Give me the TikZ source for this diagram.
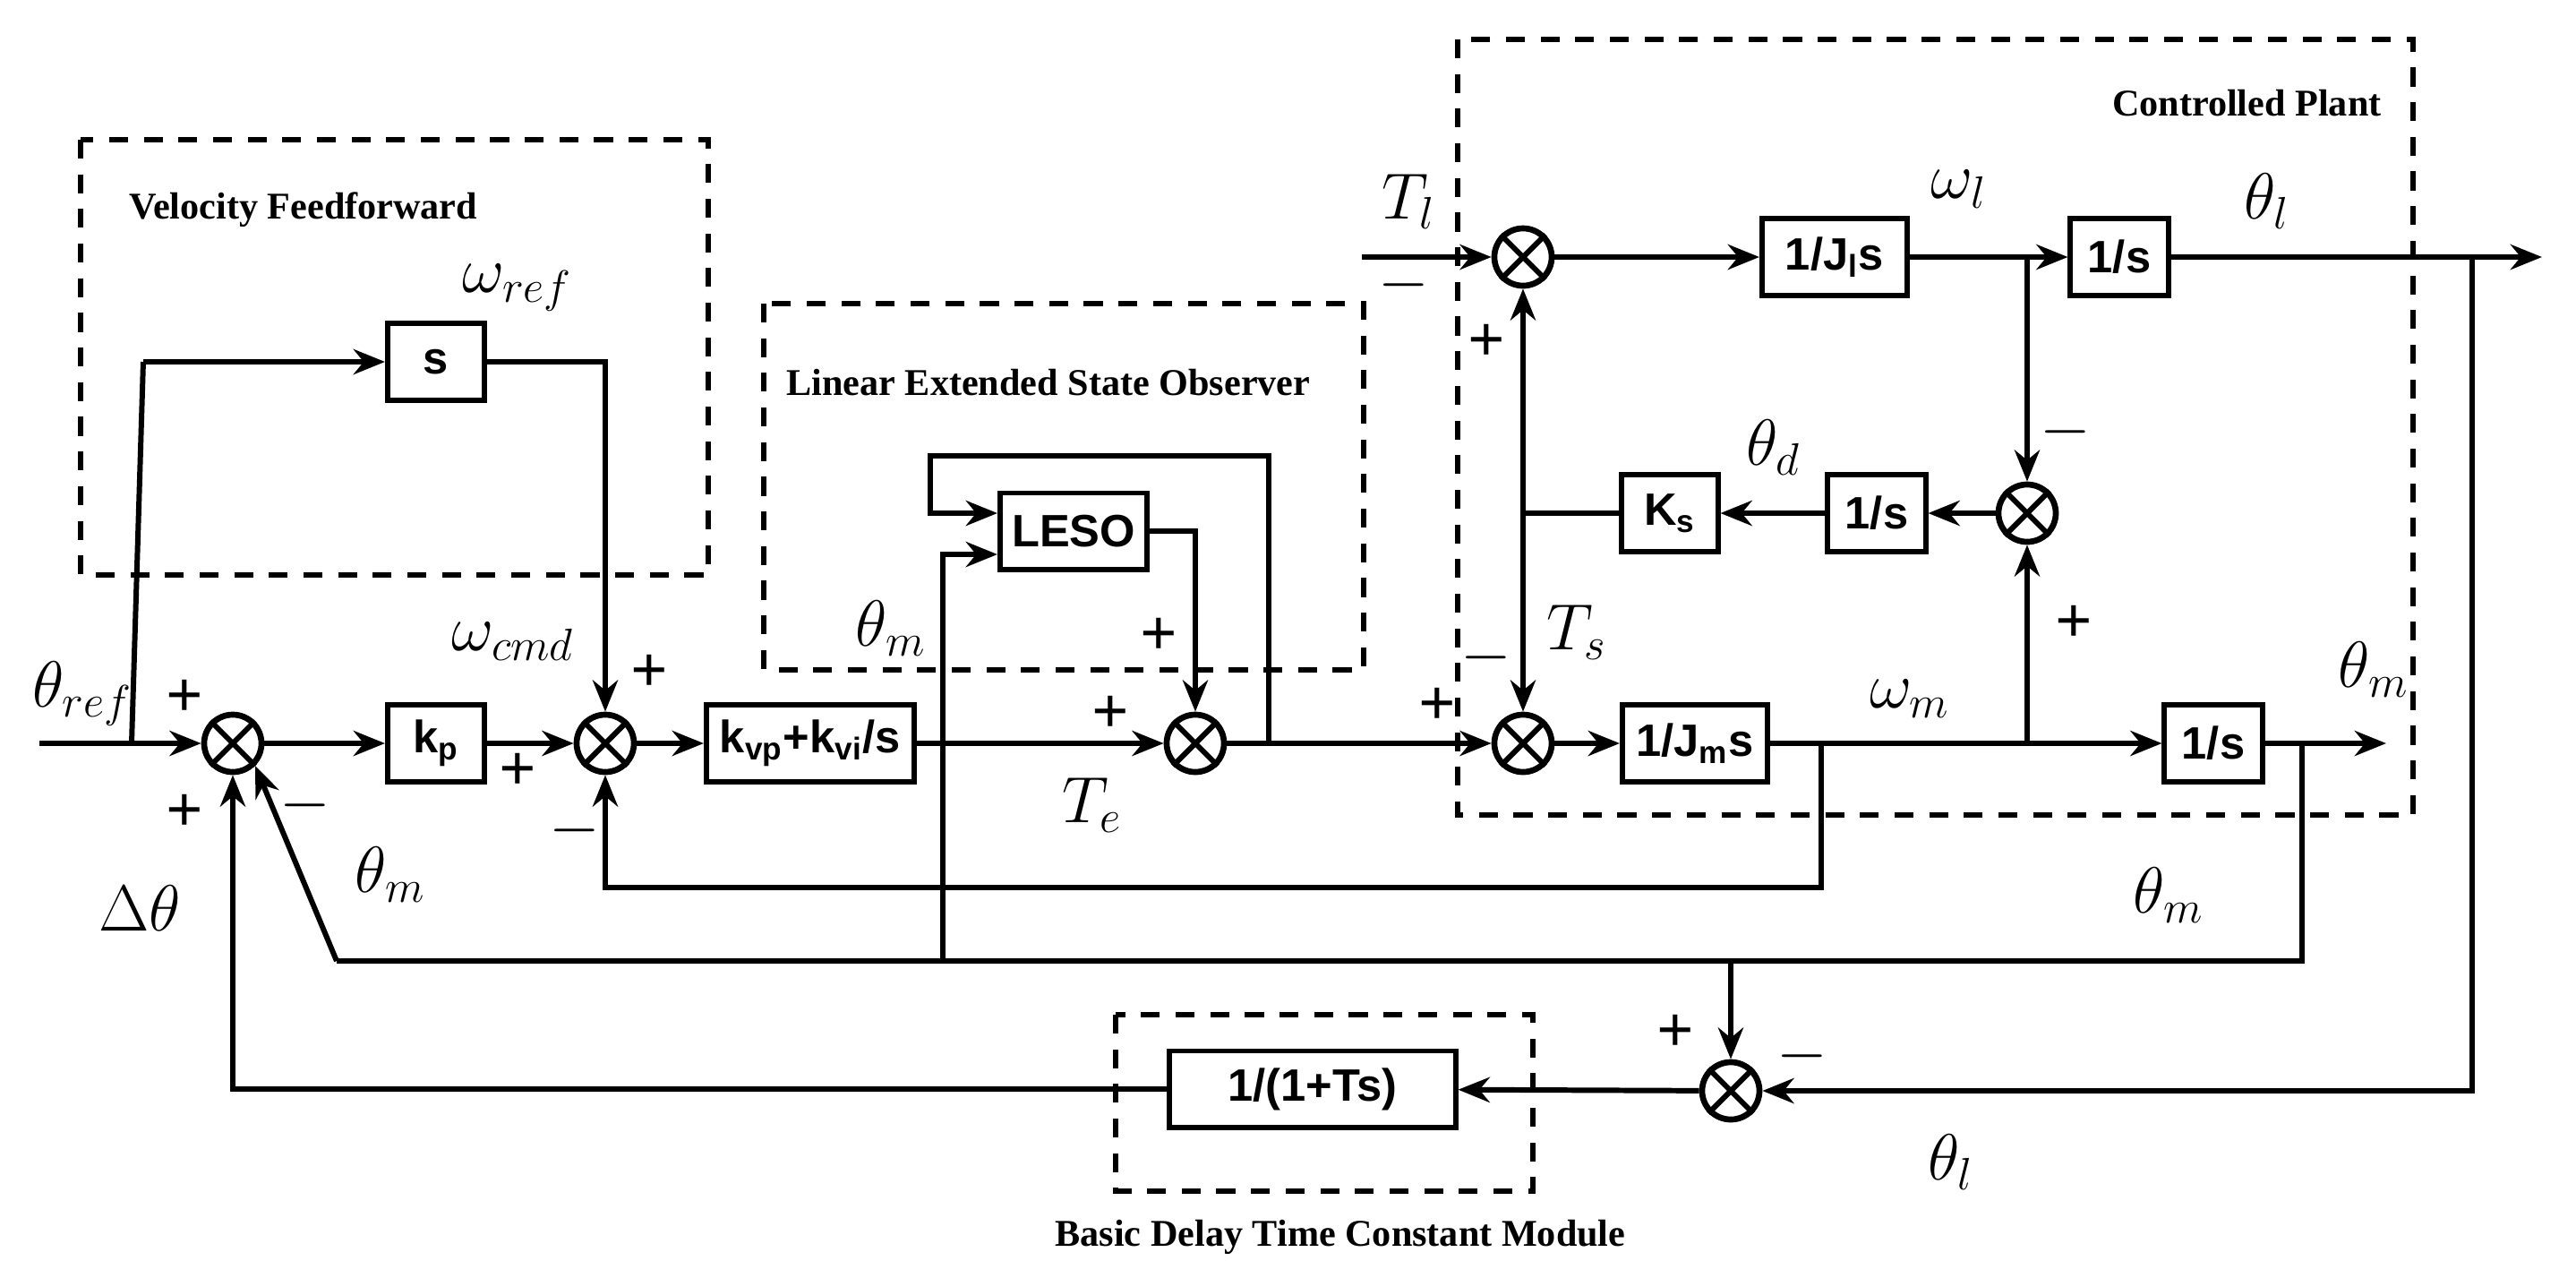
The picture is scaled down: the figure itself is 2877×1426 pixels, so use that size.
\documentclass[tikz,border=0pt]{standalone}
\usepackage{fontspec}
\setmainfont{Liberation Serif}
\setsansfont{Liberation Sans}
\usetikzlibrary{arrows.meta,calc}
\tikzset{
  blk/.style={draw, line width=1.7pt, rectangle, minimum height=0.86cm, inner sep=0pt, font=\sffamily\bfseries\Large},
  sum/.style={draw, line width=1.9pt, circle, minimum size=0.64cm, inner sep=0pt},
  sig/.style={line width=1.7pt, -{Stealth[length=10pt,width=8pt]}},
  ln/.style={line width=1.7pt},
  grp/.style={dashed, line width=1.5pt, dash pattern=on 6pt off 5pt},
  lab/.style={font=\bfseries\large},
  var/.style={font=\huge},
  pm/.style={font=\bfseries\huge}
}
\begin{document}
\begin{tikzpicture}[x=0.01cm,y=-0.01cm]
  \useasboundingbox (0,0) rectangle (2877,1426);
  % dashed groups
  \draw[grp] (90,156) rectangle (791,642);
  \draw[grp] (853,339) rectangle (1523,748);
  \draw[grp] (1628,44) rectangle (2695,910);
  \draw[grp] (1246,1133) rectangle (1712,1330);
  \node[lab, anchor=west] at (132,234) {Velocity Feedforward};
  \node[lab, anchor=west] at (866,427) {Linear Extended State Observer};
  \node[lab, anchor=east] at (2672,115) {Controlled Plant};
  \node[lab] at (1497,1381) {Basic Delay Time Constant Module};
  % sums
  \node[sum] (s1) at (260,830) {};
  \node[sum] (s2) at (676,830) {};
  \node[sum] (s3) at (1335,830) {};
  \node[sum] (s4) at (1701,830) {};
  \node[sum] (s5) at (1701,287) {};
  \node[sum] (s6) at (2264,573) {};
  \node[sum] (s7) at (1933,1218) {};
  \foreach \s in {s1,s2,s3,s4,s5,s6,s7}
    \draw[ln] (\s.45)--(\s.225) (\s.135)--(\s.315);
  % blocks
  \node[blk, minimum width=1.08cm] (kp) at (487,830) {k\textsubscript{p}};
  \node[blk, minimum width=1.08cm] (sd) at (487,404) {s};
  \node[blk, minimum width=2.32cm] (pi) at (905,830) {k\textsubscript{vp}+k\textsubscript{vi}/s};
  \node[blk, minimum width=1.64cm, minimum height=0.85cm] (leso) at (1199,593) {LESO};
  \node[blk, minimum width=1.62cm] (jl) at (2049,287) {1/J\textsubscript{l}s};
  \node[blk, minimum width=1.09cm] (il) at (2367,287) {1/s};
  \node[blk, minimum width=1.09cm] (id) at (2096,573) {1/s};
  \node[blk, minimum width=1.07cm] (ks) at (1865,573) {K\textsubscript{s}};
  \node[blk, minimum width=1.62cm] (jm) at (1893,830) {1/J\textsubscript{m}s};
  \node[blk, minimum width=1.09cm] (im) at (2472,830) {1/s};
  \node[blk, minimum width=3.19cm, minimum height=0.85cm] (dl) at (1466,1216) {1/(1+Ts)};
  % coordinates
  \coordinate (in) at (44,830);
  \coordinate (ffb) at (147,830);
  \coordinate (tl) at (1521,287);
  \coordinate (out1) at (2839,287);
  \coordinate (out2) at (2665,830);
  \coordinate (ja) at (2264,287);
  \coordinate (jb) at (2264,830);
  \coordinate (jc) at (1701,573);
  \coordinate (jd) at (2034,830);
  \coordinate (je) at (2571,830);
  \coordinate (jf) at (2761,287);
  \coordinate (jg) at (1417,830);
  \coordinate (jh) at (1053,1073);
  \coordinate (ji) at (1933,1073);
  % forward path
  \draw[sig] (in) -- (s1);
  \draw[ln] (ffb) -- (160,404);
  \draw[sig] (160,404) -- (sd);
  \draw[sig] (sd.east) -| (s2.north);
  \draw[sig] (s1) -- (kp);
  \draw[sig] (kp) -- (s2);
  \draw[sig] (s2) -- (pi);
  \draw[sig] (pi) -- (s3);
  \draw[sig] (leso.east) -| (s3.north);
  \draw[sig] (s3) -- (s4);
  \draw[sig] (s4) -- (jm);
  \draw[sig] (jm) -- (im);
  \draw[sig] (im) -- (out2);
  \draw[sig] (tl) -- (s5);
  \draw[sig] (s5) -- (jl);
  \draw[sig] (jl) -- (il);
  \draw[sig] (il) -- (out1);
  \draw[sig] (ja) -- (s6);
  \draw[sig] (jb) -- (s6);
  \draw[sig] (s6) -- (id);
  \draw[sig] (id) -- (ks);
  \draw[ln] (ks) -- (jc);
  \draw[sig] (jc) -- (s5);
  \draw[sig] (jc) -- (s4);
  % LESO inputs
  \draw[sig] (jg) |- (1039,509) |- ($(leso.west)+(0,-20)$);
  \draw[sig] (jh) |- ($(leso.west)+(0,26)$);
  % feedback paths
  \draw[sig] (jd) |- (676,991) -- (s2.south);
  \draw[ln] (je) |- (376,1073);
  \draw[sig] (376,1073) -- (s1.south east);
  \draw[sig] (ji) -- (s7);
  \draw[sig] (jf) |- (s7);
  \draw[sig] (s7) -- (dl);
  \draw[sig] (dl.west) -| (s1.south);
  % variable labels
  \node[var] at (92,775) {$\theta_{ref}$};
  \node[var] at (578,321) {$\omega_{ref}$};
  \node[var] at (573,716) {$\omega_{cmd}$};
  \node[var] at (995,702) {$\theta_m$};
  \node[var] at (1220,899) {$T_e$};
  \node[var] at (436,977) {$\theta_m$};
  \node[var] at (156,1014) {$\Delta\theta$};
  \node[var] at (1573,225) {$T_l$};
  \node[var] at (1761,706) {$T_s$};
  \node[var] at (2188,211) {$\omega_l$};
  \node[var] at (2532,225) {$\theta_l$};
  \node[var] at (1981,500) {$\theta_d$};
  \node[var] at (2133,780) {$\omega_m$};
  \node[var] at (2651,748) {$\theta_m$};
  \node[var] at (2422,1000) {$\theta_m$};
  \node[var] at (2179,1298) {$\theta_l$};
  % signs
  \node[pm] at (206,780) {+};
  \node[pm] at (206,908) {+};
  \node[pm] at (341,899) {$-$};
  \node[pm] at (725,752) {+};
  \node[pm] at (578,862) {+};
  \node[pm] at (642,927) {$-$};
  \node[pm] at (1294,711) {+};
  \node[pm] at (1240,798) {+};
  \node[pm] at (1568,318) {$-$};
  \node[pm] at (1660,383) {+};
  \node[pm] at (1660,734) {$-$};
  \node[pm] at (1605,789) {+};
  \node[pm] at (2307,482) {$-$};
  \node[pm] at (2316,697) {+};
  \node[pm] at (1871,1154) {+};
  \node[pm] at (2013,1179) {$-$};
\end{tikzpicture}
\end{document}
